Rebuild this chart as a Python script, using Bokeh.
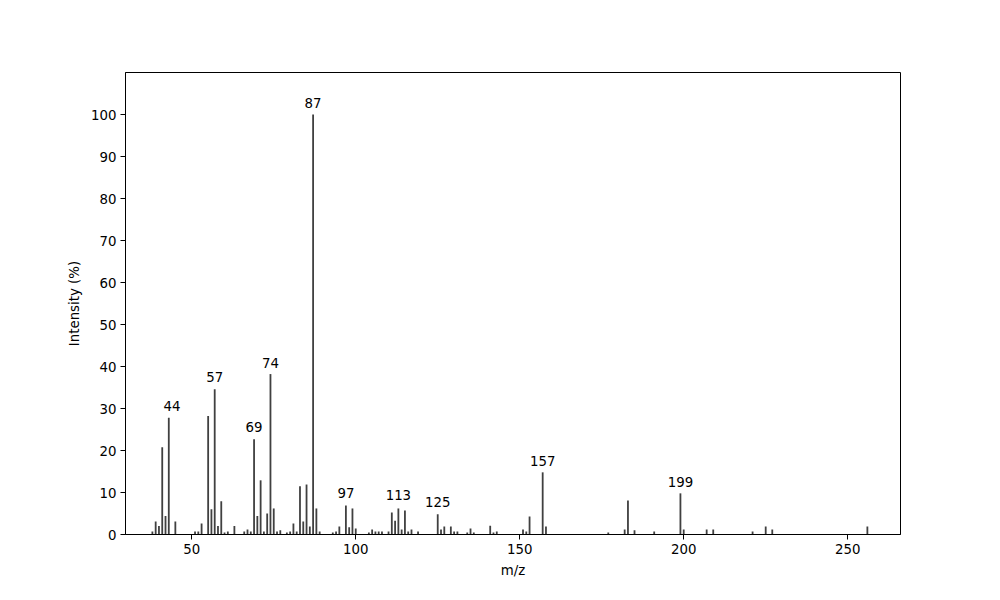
from bokeh.plotting import figure
from bokeh.models import ColumnDataSource, FixedTicker, Range1d
from bokeh.embed import file_html
from bokeh.resources import INLINE
from bokeh.core.properties import value

mz = [38, 39, 40, 41, 42, 43, 45, 51, 52, 53, 55, 56, 57, 58, 59, 60, 61, 63,
      66, 67, 68, 69, 70, 71, 72, 73, 74, 75, 76, 77, 79, 80, 81, 82, 83, 84,
      85, 86, 87, 88, 89, 93, 94, 95, 97, 98, 99, 100, 104, 105, 106, 107, 108,
      110, 111, 112, 113, 114, 115, 116, 117, 119, 125, 126, 127, 129, 130, 131,
      134, 135, 136, 141, 142, 143, 151, 152, 153, 157, 158, 177, 182, 183, 185,
      191, 199, 200, 207, 209, 221, 225, 227, 256]
intensity = [0.7, 3.1, 2.0, 20.8, 4.4, 27.8, 3.1, 0.7, 0.7, 2.6, 28.2, 6.0, 34.6,
             2.0, 7.9, 0.5, 0.7, 2.0, 0.7, 1.2, 0.7, 22.7, 4.4, 12.9, 0.7, 5.0,
             38.2, 6.2, 0.7, 1.0, 0.5, 0.7, 2.6, 0.7, 11.5, 3.1, 11.9, 1.9, 100.0,
             6.2, 0.7, 0.5, 0.7, 1.9, 6.9, 1.7, 6.2, 1.4, 0.5, 1.2, 0.7, 0.7, 0.7,
             0.7, 5.25, 3.3, 6.2, 1.2, 5.7, 0.7, 1.2, 0.7, 4.8, 1.2, 1.9, 1.9, 0.7,
             0.7, 0.5, 1.4, 0.5, 2.1, 0.5, 0.7, 1.2, 0.7, 4.3, 14.8, 1.9, 0.5, 1.2,
             8.1, 1.0, 0.7, 9.8, 1.2, 1.2, 1.2, 0.7, 1.9, 1.2, 1.9]

label_mz = [44, 57, 69, 74, 87, 97, 113, 125, 157, 199]
label_text = ["44", "57", "69", "74", "87", "97", "113", "125", "157", "199"]
label_y = [30.6, 37.5, 25.5, 40.9, 102.7, 9.9, 9.3, 7.7, 17.5, 12.5]

x_ticks = [50, 100, 150, 200, 250]
y_ticks = [0, 10, 20, 30, 40, 50, 60, 70, 80, 90, 100]

FONT = "DejaVu Sans"
FS = "13.33px"

p = figure(width=992, height=592, output_backend="svg", toolbar_location=None,
           x_range=Range1d(29.8, 266.1), y_range=Range1d(0, 110),
           min_border_left=125, min_border_right=92, min_border_top=72,
           min_border_bottom=58, background_fill_color="white",
           border_fill_color="white")
p.frame_width = 775
p.frame_height = 462

src = ColumnDataSource(dict(x=mz, top=intensity))
p.vbar(x="x", top="top", bottom=0, width=0.55, source=src,
       fill_color="#404040", line_color=None)

lsrc = ColumnDataSource(dict(x=label_mz, y=label_y, t=label_text))
p.text(x="x", y="y", text="t", source=lsrc, text_align="center",
       text_baseline="alphabetic", text_font=value(FONT),
       text_font_size=FS, text_color="black")

p.grid.visible = False
p.outline_line_color = "black"
p.outline_line_width = 1

for ax in (p.xaxis[0], p.yaxis[0]):
    ax.axis_line_color = "black"
    ax.major_tick_line_color = "black"
    ax.major_tick_out = 5
    ax.major_tick_in = 0
    ax.minor_tick_line_color = None
    ax.major_label_text_font = FONT
    ax.major_label_text_font_size = FS
    ax.major_label_text_color = "black"
    ax.axis_label_text_font = FONT
    ax.axis_label_text_font_size = FS
    ax.axis_label_text_font_style = "normal"
    ax.axis_label_text_color = "black"
    ax.major_label_standoff = 4

p.xaxis[0].ticker = FixedTicker(ticks=x_ticks)
p.yaxis[0].ticker = FixedTicker(ticks=y_ticks)
p.xaxis[0].axis_label = "m/z"
p.yaxis[0].axis_label = "Intensity (%)"
p.xaxis[0].axis_label_standoff = 6
p.yaxis[0].axis_label_standoff = 6

open("out.html", "w").write(file_html(p, INLINE))
